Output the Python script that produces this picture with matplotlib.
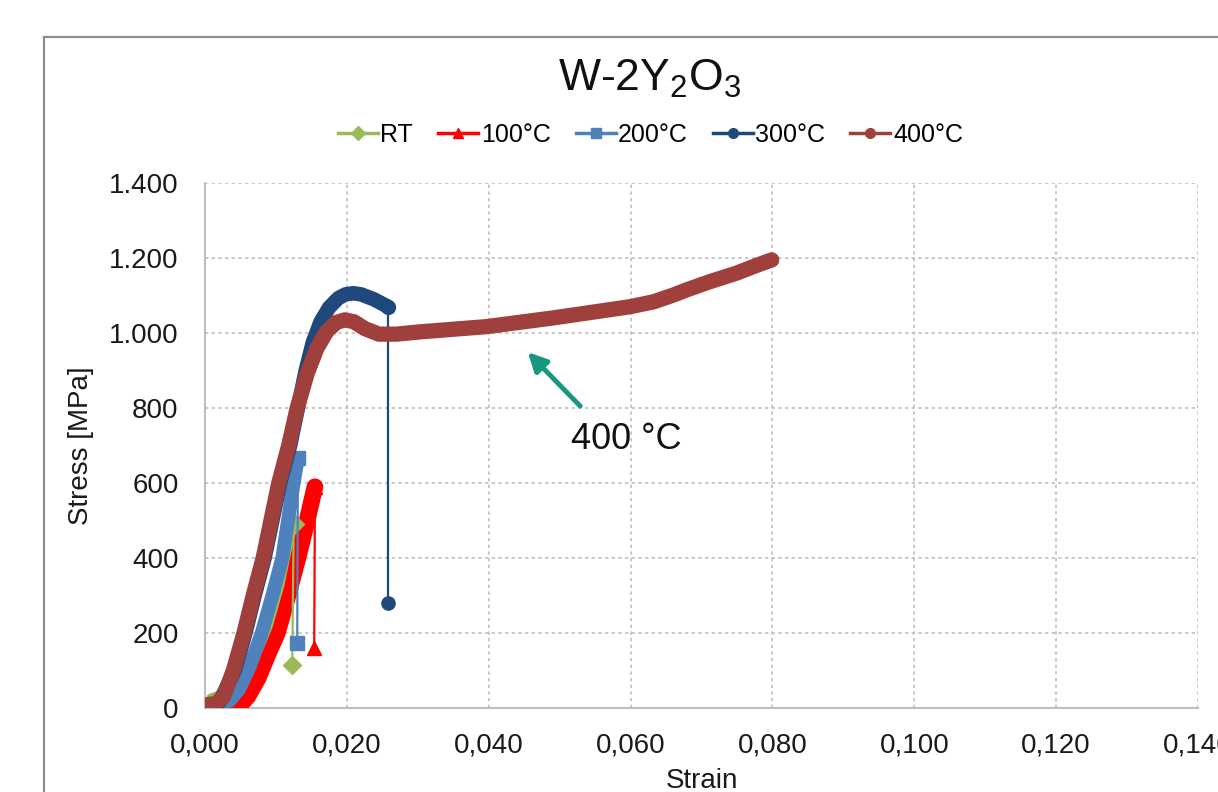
import numpy as np
import matplotlib
matplotlib.use("Agg")
import matplotlib.pyplot as plt
from matplotlib.lines import Line2D
from matplotlib.ticker import FuncFormatter

plt.rcParams['font.family'] = ['Liberation Sans', 'DejaVu Sans']
plt.rcParams['mathtext.default'] = 'regular'

# --- data (strain [-], stress [MPa]) ---
rt_strain = [0.0, 0.0007, 0.003, 0.0055, 0.0074, 0.0091, 0.0108, 0.0125]
rt_stress = [5, 30, 45, 90, 140, 217, 330, 490]
rt_break = (0.0123, 115)

t100_strain = [0.002, 0.0035, 0.0048, 0.006, 0.0075, 0.0088, 0.0102, 0.0117, 0.0131, 0.0144, 0.0155]
t100_stress = [0, 0, 5, 30, 80, 140, 200, 300, 400, 500, 590]
t100_break = (0.0154, 160)

t200_strain = [0.0002, 0.002, 0.0035, 0.0048, 0.0063, 0.008, 0.0095, 0.0109, 0.0125, 0.0131]
t200_stress = [8, 10, 20, 50, 110, 200, 300, 400, 600, 667]
t200_break = (0.0130, 173)

t300_strain = [0.0005, 0.002, 0.0042, 0.0057, 0.007, 0.0084, 0.0095, 0.0106, 0.012, 0.0131,
               0.0142, 0.0152, 0.0163, 0.0175, 0.0188, 0.0198, 0.0209, 0.022, 0.0238, 0.0258]
t300_stress = [5, 15, 100, 200, 300, 400, 500, 600, 700, 800,
               900, 975, 1030, 1068, 1093, 1103, 1106, 1103, 1090, 1070]
t300_break = (0.0258, 280)

t400_strain = [0.0, 0.0015, 0.0026, 0.004, 0.0055, 0.0068, 0.0082, 0.0093, 0.0104, 0.0118,
               0.0130, 0.0144, 0.0158, 0.0172, 0.0185, 0.0197, 0.021, 0.0225, 0.0245,
               0.027, 0.0303, 0.0397, 0.049, 0.0599, 0.0632, 0.066, 0.0679, 0.0712,
               0.075, 0.0773, 0.0799]
t400_stress = [8, 12, 30, 100, 200, 300, 400, 500, 600, 700,
               800, 892, 960, 1005, 1028, 1035, 1030, 1012, 997,
               997, 1003, 1017, 1040, 1070, 1083, 1101, 1115, 1137,
               1160, 1177, 1195]

labels = ['RT', '100°C', '200°C', '300°C', '400°C']
colors = ['#9BBB59', '#FF0000', '#4F81BD', '#1F497D', '#A0403C']
markers = ['D', '^', 's', 'o', 'o']

x_ticks = np.arange(0, 0.1401, 0.02)
y_ticks = np.arange(0, 1401, 200)

fig = plt.figure(figsize=(12.18, 7.92), dpi=100)
ax = fig.add_axes([205 / 1218, 84 / 792, 993 / 1218, 525 / 792])

# outer chart border (cut off at the right/bottom like the source)
fig.add_artist(Line2D([44 / 1218, 1.0], [1 - 37 / 792, 1 - 37 / 792], color='#8C8C8C', lw=1.6))
fig.add_artist(Line2D([44 / 1218, 44 / 1218], [0.0, 1 - 37 / 792], color='#8C8C8C', lw=1.6))

# (x, y, break point, line width, z-order)
curves = [
    (rt_strain, rt_stress, rt_break, 4.5, 3.2),
    (t100_strain, t100_stress, t100_break, 12, 3.0),
    (t200_strain, t200_stress, t200_break, 10, 3.4),
    (t300_strain, t300_stress, t300_break, 10.5, 3.6),
    (t400_strain, t400_stress, None, 11, 3.8),
]

for (xs, ys, brk, lw, z), c, m in zip(curves, colors, markers):
    ax.plot(xs, ys, color=c, lw=lw, solid_capstyle='round', solid_joinstyle='round', zorder=z)
    if brk is not None:
        ax.plot([xs[-1], brk[0]], [ys[-1], brk[1]], color=c, lw=1.6, zorder=z)
        ax.plot([brk[0]], [brk[1]], marker=m, color=c, ms=9.5, ls='none', zorder=z + 0.05)
        ax.plot([xs[-1]], [ys[-1]], marker=m, color=c, ms=10, ls='none', zorder=z + 0.05)
    else:
        ax.plot([xs[-1]], [ys[-1]], marker=m, color=c, ms=8, ls='none', zorder=z + 0.05)

ax.set_xlim(0, 0.14)
ax.set_ylim(0, 1400)
ax.set_xticks(x_ticks)
ax.set_yticks(y_ticks)
ax.xaxis.set_major_formatter(FuncFormatter(lambda v, p: f"{v:.3f}".replace('.', ',')))
ax.yaxis.set_major_formatter(FuncFormatter(lambda v, p: f"{int(round(v)):,}".replace(',', '.')))
ax.tick_params(length=0, labelsize=20, colors='#1a1a1a')
ax.tick_params(axis='y', pad=19)
ax.tick_params(axis='x', pad=18)

ax.grid(True, color='#BFBFBF', ls=(0, (2, 2)), lw=1.2, zorder=0)
ax.set_axisbelow(True)
for s in ['top', 'right']:
    ax.spines[s].set_visible(False)
for s in ['left', 'bottom']:
    ax.spines[s].set_color('#BFBFBF')
    ax.spines[s].set_linewidth(1.5)

ax.set_xlabel('Strain', fontsize=20, color='#1a1a1a')
ax.set_ylabel('Stress [MPa]', fontsize=20, color='#1a1a1a')
ax.xaxis.set_label_coords(0.5, -0.114)
ax.yaxis.set_label_coords(-0.112, 0.5)

# annotation
arrow_tail = (0.0529, 805)
arrow_head = (0.0455, 949)
ax.annotate('', xy=arrow_head, xytext=arrow_tail,
            arrowprops=dict(arrowstyle='-|>', color='#17977F', lw=3.5, mutation_scale=28,
                            shrinkA=0, shrinkB=0))
ax.text(0.0594, 715, '400 °C', fontsize=26, ha='center', va='center', color='#111111')

fig.text(0.533, 0.90, 'W-2Y$_2$O$_3$', fontsize=32, ha='center', va='center', color='#111111')

handles = [Line2D([0], [0], color=c, lw=2.5, marker=m, ms=7) for c, m in zip(colors, markers)]
fig.legend(handles, labels, loc='center', bbox_to_anchor=(0.534, 0.8295), ncol=5, frameon=False,
           fontsize=18, handlelength=1.6, handletextpad=0.1, columnspacing=1.0)

fig.savefig('out.png', dpi=100)
